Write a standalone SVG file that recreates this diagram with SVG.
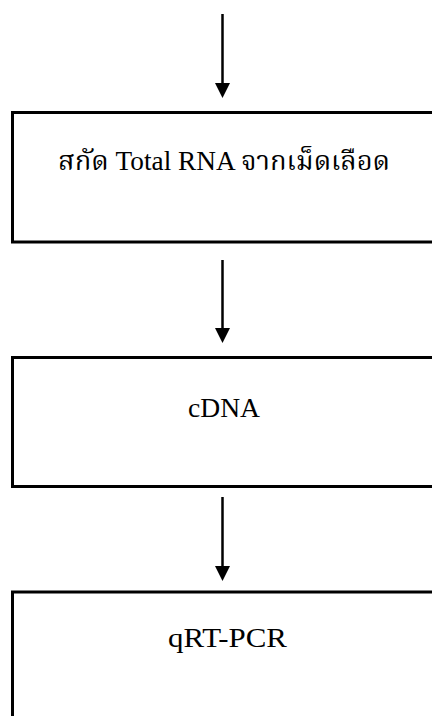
<svg xmlns="http://www.w3.org/2000/svg" width="432" height="716" viewBox="0 0 432 716">
<style>
.box{fill:#fff;stroke:#000;stroke-width:3}
.lbl{font-family:"Liberation Serif","Noto Serif Thai","Noto Sans Thai","Tlwg Typo",serif;font-size:27px;fill:#000}
.conn line{stroke:#000;stroke-width:2.5}
.conn polygon{fill:#000}
</style>
<rect width="432" height="716" fill="#fff"/>
<g id="connectors" class="conn">
<line x1="222.5" y1="14" x2="222.5" y2="84"/>
<polygon points="215,83 230,83 222.5,98"/>
<line x1="222.5" y1="260" x2="222.5" y2="329"/>
<polygon points="215,328 230,328 222.5,343"/>
<line x1="222.5" y1="497" x2="222.5" y2="567"/>
<polygon points="215,566 230,566 222.5,581"/>
</g>
<g id="node-extract">
<rect class="box" x="12.5" y="112.5" width="440" height="129.5"/>
<text class="lbl" x="58" y="170" textLength="332" lengthAdjust="spacingAndGlyphs">สกัด Total RNA จากเม็ดเลือด</text>
</g>
<g id="node-cdna">
<rect class="box" x="12.5" y="357.5" width="440" height="129"/>
<text class="lbl" x="188" y="416.5" textLength="72" lengthAdjust="spacingAndGlyphs">cDNA</text>
</g>
<g id="node-qrtpcr">
<rect class="box" x="12.5" y="592" width="440" height="140"/>
<text class="lbl" x="168" y="647" textLength="119" lengthAdjust="spacingAndGlyphs">qRT-PCR</text>
</g>
</svg>
